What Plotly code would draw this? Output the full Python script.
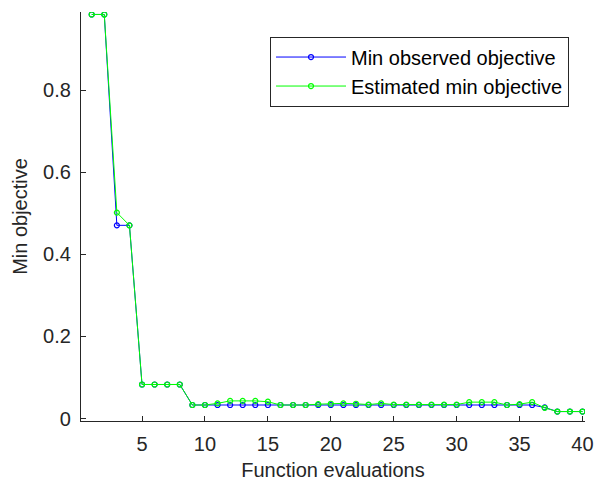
import plotly.graph_objects as go

evals = list(range(1, 41))
min_observed = [0.985, 0.985, 0.471, 0.471, 0.083, 0.083, 0.083, 0.083, 0.033, 0.033,
                0.033, 0.033, 0.033, 0.033, 0.033, 0.033, 0.033, 0.033, 0.033, 0.033,
                0.033, 0.033, 0.033, 0.033, 0.033, 0.033, 0.033, 0.033, 0.033, 0.033,
                0.033, 0.033, 0.033, 0.033, 0.033, 0.033, 0.027, 0.017, 0.017, 0.017]
est_min = [0.985, 0.985, 0.502, 0.471, 0.083, 0.083, 0.083, 0.083, 0.033, 0.033,
           0.037, 0.043, 0.043, 0.043, 0.041, 0.033, 0.033, 0.033, 0.035, 0.036,
           0.037, 0.036, 0.034, 0.037, 0.034, 0.034, 0.034, 0.034, 0.034, 0.034,
           0.040, 0.040, 0.040, 0.033, 0.035, 0.040, 0.026, 0.017, 0.017, 0.017]
x_ticks = [5, 10, 15, 20, 25, 30, 35, 40]
y_ticks = [0, 0.2, 0.4, 0.6, 0.8]
y_tick_text = ["0", "0.2", "0.4", "0.6", "0.8"]

FONT = "Liberation Sans, Arial, sans-serif"
TXT = "#262626"

fig = go.Figure()
fig.add_trace(go.Scatter(x=evals, y=min_observed, mode="lines+markers",
                         name="Min observed objective",
                         line=dict(color="#0000FF", width=1),
                         marker=dict(symbol="circle-open", size=5, color="#0000FF",
                                     line=dict(width=1.2))))
fig.add_trace(go.Scatter(x=evals, y=est_min, mode="lines+markers",
                         name="Estimated min objective",
                         line=dict(color="#00FF00", width=1),
                         marker=dict(symbol="circle-open", size=5, color="#00FF00",
                                     line=dict(width=1.2))))

# page has an 8px body margin, so the figure is 600x477 placed at (8, 8)
fig.update_layout(
    width=600, height=477,
    margin=dict(l=73, r=23, t=4, b=64, autoexpand=False),
    paper_bgcolor="white", plot_bgcolor="white",
    font=dict(family=FONT, size=20, color=TXT),
    showlegend=True,
    legend=dict(x=0.375, y=0.94, xanchor="left", yanchor="top",
                bgcolor="white", bordercolor=TXT, borderwidth=1,
                font=dict(family=FONT, size=20, color="#000000"),
                itemwidth=70, tracegroupgap=0),
    xaxis=dict(range=[0.15, 40.2], tickvals=x_ticks, ticks="inside", ticklen=5,
               tickwidth=1.3, tickcolor=TXT, showline=True, linecolor=TXT,
               linewidth=1.3, showgrid=False, zeroline=False, mirror=False,
               automargin=False, ticklabelstandoff=5,
               title=dict(text="Function evaluations", standoff=8,
                          font=dict(family=FONT, size=20, color=TXT)),
               tickfont=dict(family=FONT, size=20, color=TXT)),
    yaxis=dict(range=[-0.006, 0.991], tickvals=y_ticks, ticktext=y_tick_text,
               ticks="inside", ticklen=5, tickwidth=1.3, tickcolor=TXT,
               showline=True, linecolor=TXT, linewidth=1.3, showgrid=False,
               zeroline=False, mirror=False, automargin=False, ticklabelstandoff=5,
               title=dict(text="Min objective", standoff=10,
                          font=dict(family=FONT, size=20, color=TXT)),
               tickfont=dict(family=FONT, size=20, color=TXT)),
)

fig.write_html("out.html")
